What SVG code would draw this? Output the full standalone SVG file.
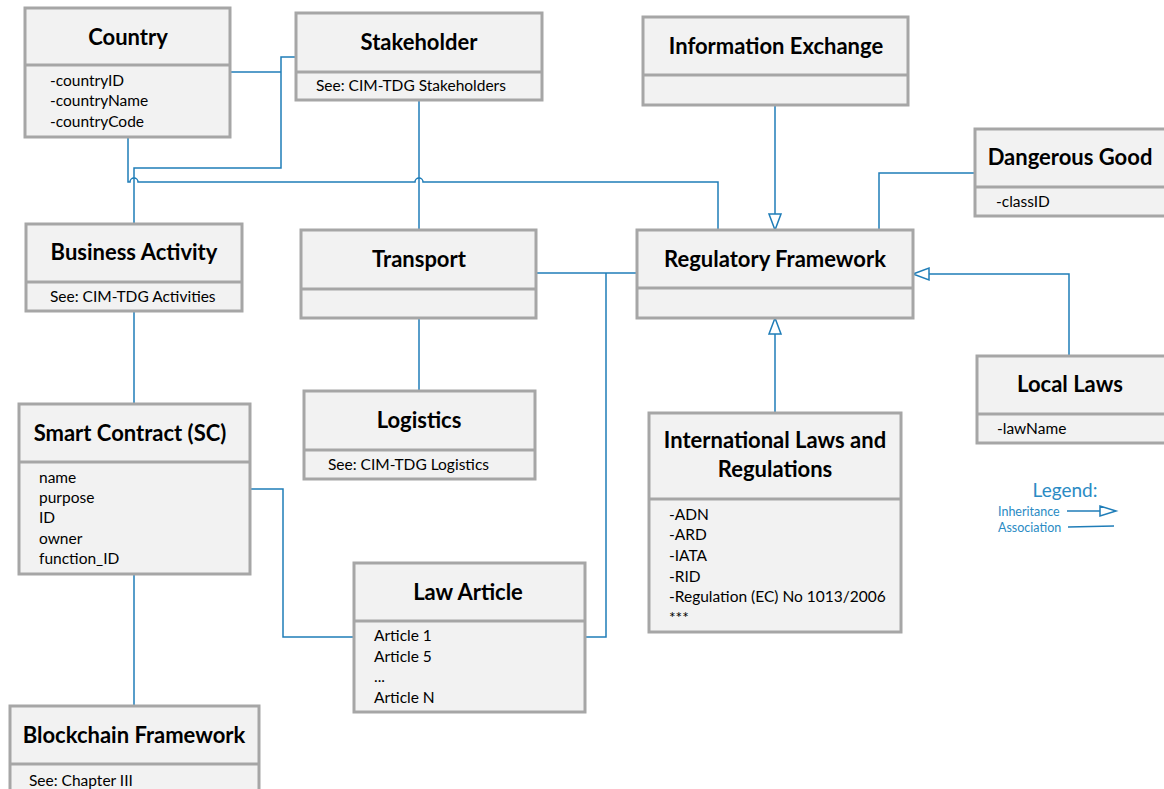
<svg xmlns="http://www.w3.org/2000/svg" width="1164" height="789" viewBox="0 0 1164 789">
<style>
.box{fill:#f2f2f2;stroke:#a6a6a6;stroke-width:3}
.sep{stroke:#a6a6a6;stroke-width:3}
.title{font-family:Lato,"Liberation Sans",sans-serif;font-weight:bold;font-size:22px;fill:#000;text-anchor:middle}
.attr{font-family:Lato,"Liberation Sans",sans-serif;font-size:15.5px;fill:#000}
.conn{fill:none;stroke:#1f7db8;stroke-width:1.5}
.tri{fill:#fff;stroke:#1f7db8;stroke-width:1.5}
.leg{font-family:Lato,"Liberation Sans",sans-serif;fill:#2a8bc4}
</style>
<rect width="1164" height="789" fill="#fff"/>
<g id="connectors">
<path class="conn" d="M230,72 H281"/>
<path class="conn" d="M295,57 H281 V168 H134 V224"/>
<path class="conn" d="M128,137 V182 H130 A4,4 0 0 1 138,182 H415 A4,4 0 0 1 423,182 H718 V230"/>
<path class="conn" d="M419,100 V230"/>
<path class="conn" d="M419,318 V391"/>
<path class="conn" d="M134,311 V404"/>
<path class="conn" d="M134,574 V706"/>
<path class="conn" d="M250,489 H283 V637 H354"/>
<path class="conn" d="M536,273 H637"/>
<path class="conn" d="M585,637 H606 V273"/>
<path class="conn" d="M975,173 H879 V230"/>
<path class="conn" d="M775,105 V214"/>
<polygon class="tri" points="775,230 769,214 781,214"/>
<path class="conn" d="M1069,356 V274 H929"/>
<polygon class="tri" points="913,274 929,268 929,280"/>
<path class="conn" d="M775,413 V334"/>
<polygon class="tri" points="775,318 769,334 781,334"/>
</g>
<g id="country">
<rect class="box" x="25" y="8" width="205" height="129"/>
<line class="sep" x1="25" y1="65" x2="230" y2="65"/>
<text class="title" x="128" y="45">Country</text>
<text class="attr" x="50" y="86">-countryID</text>
<text class="attr" x="50" y="106">-countryName</text>
<text class="attr" x="50" y="127">-countryCode</text>
</g>
<g id="stakeholder">
<rect class="box" x="296" y="13" width="246" height="87"/>
<line class="sep" x1="296" y1="72" x2="542" y2="72"/>
<text class="title" x="419" y="50">Stakeholder</text>
<text class="attr" x="316" y="91">See: CIM-TDG Stakeholders</text>
</g>
<g id="information-exchange">
<rect class="box" x="643" y="17" width="265" height="88"/>
<line class="sep" x1="643" y1="75" x2="908" y2="75"/>
<text class="title" x="776" y="54">Information Exchange</text>
</g>
<g id="dangerous-good">
<rect class="box" x="975" y="129" width="195" height="87"/>
<line class="sep" x1="975" y1="187" x2="1170" y2="187"/>
<text class="title" x="1070" y="165">Dangerous Good</text>
<text class="attr" x="996" y="207">-classID</text>
</g>
<g id="business-activity">
<rect class="box" x="26" y="224" width="216" height="87"/>
<line class="sep" x1="26" y1="282" x2="242" y2="282"/>
<text class="title" x="134" y="260">Business Activity</text>
<text class="attr" x="50" y="302">See: CIM-TDG Activities</text>
</g>
<g id="transport">
<rect class="box" x="301" y="230" width="235" height="88"/>
<line class="sep" x1="301" y1="289" x2="536" y2="289"/>
<text class="title" x="419" y="267">Transport</text>
</g>
<g id="regulatory-framework">
<rect class="box" x="637" y="230" width="276" height="88"/>
<line class="sep" x1="637" y1="288" x2="913" y2="288"/>
<text class="title" x="775" y="267">Regulatory Framework</text>
</g>
<g id="logistics">
<rect class="box" x="304" y="391" width="231" height="88"/>
<line class="sep" x1="304" y1="450" x2="535" y2="450"/>
<text class="title" x="419" y="428">Logistics</text>
<text class="attr" x="328" y="470">See: CIM-TDG Logistics</text>
</g>
<g id="smart-contract">
<rect class="box" x="19" y="404" width="231" height="170"/>
<line class="sep" x1="19" y1="462" x2="250" y2="462"/>
<text class="title" x="130" y="441">Smart Contract (SC)</text>
<text class="attr" x="39" y="483">name</text>
<text class="attr" x="39" y="503">purpose</text>
<text class="attr" x="39" y="523">ID</text>
<text class="attr" x="39" y="544">owner</text>
<text class="attr" x="39" y="564">function_ID</text>
</g>
<g id="local-laws">
<rect class="box" x="977" y="356" width="195" height="87"/>
<line class="sep" x1="977" y1="414" x2="1172" y2="414"/>
<text class="title" x="1070" y="392">Local Laws</text>
<text class="attr" x="997" y="434">-lawName</text>
</g>
<g id="international-laws">
<rect class="box" x="649" y="413" width="252" height="219"/>
<line class="sep" x1="649" y1="499" x2="901" y2="499"/>
<text class="title" x="775" y="448">International Laws and</text>
<text class="title" x="775" y="477">Regulations</text>
<text class="attr" x="669" y="520">-ADN</text>
<text class="attr" x="669" y="540">-ARD</text>
<text class="attr" x="669" y="561">-IATA</text>
<text class="attr" x="669" y="582">-RID</text>
<text class="attr" x="669" y="602">-Regulation (EC) No 1013/2006</text>
<text class="attr" x="669" y="623">***</text>
</g>
<g id="law-article">
<rect class="box" x="354" y="563" width="231" height="149"/>
<line class="sep" x1="354" y1="621" x2="585" y2="621"/>
<text class="title" x="468" y="600">Law Article</text>
<text class="attr" x="374" y="641">Article 1</text>
<text class="attr" x="374" y="662">Article 5</text>
<text class="attr" x="374" y="682">...</text>
<text class="attr" x="374" y="703">Article N</text>
</g>
<g id="blockchain-framework">
<rect class="box" x="10" y="706" width="249" height="95"/>
<line class="sep" x1="10" y1="764" x2="259" y2="764"/>
<text class="title" x="134" y="743">Blockchain Framework</text>
<text class="attr" x="29" y="786">See: Chapter III</text>
</g>
<g id="legend">
<text class="leg" x="1065" y="497" font-size="19" text-anchor="middle">Legend:</text>
<text class="leg" x="998" y="516" font-size="12.5">Inheritance</text>
<text class="leg" x="998" y="532" font-size="12.5">Association</text>
<path class="conn" d="M1067,511 H1100"/>
<polygon class="tri" points="1116,511 1100,506 1100,516"/>
<path class="conn" d="M1068,527 L1114,526"/>
</g>
</svg>
